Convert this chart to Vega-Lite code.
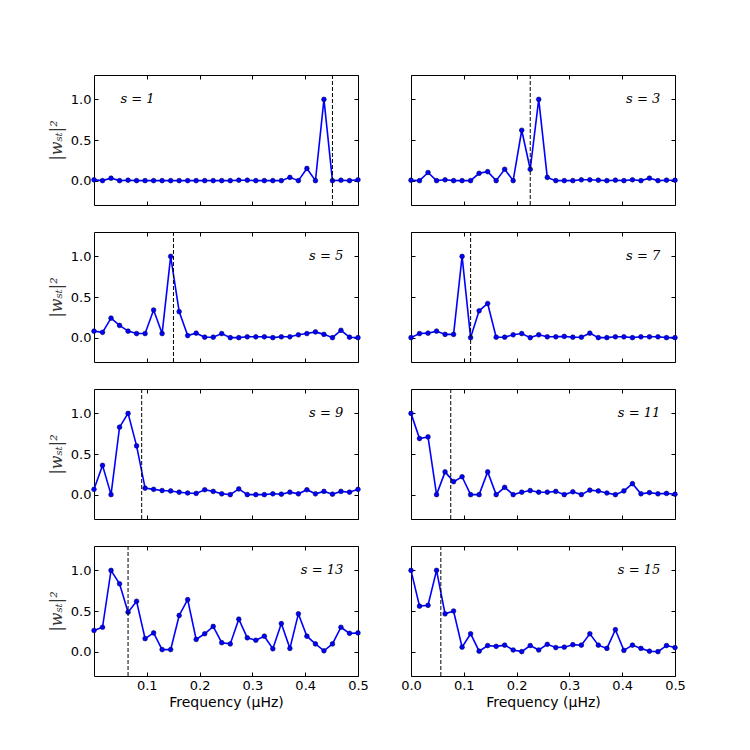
{
  "$schema": "https://vega.github.io/schema/vega-lite/v6.json",
  "padding": {"left": 47, "top": 74, "right": 5, "bottom": 5},
  "bounds": "flush",
  "columns": 2,
  "spacing": {"row": 27, "column": 53},
  "background": "white",
  "datasets": {
    "pts": [
      {"s":1,"f":0,"v":0.01},{"s":1,"f":0.01613,"v":0},{"s":1,"f":0.03226,"v":0.03},{"s":1,"f":0.04839,"v":0},{"s":1,"f":0.06452,"v":0.005},{"s":1,"f":0.08065,"v":0},{"s":1,"f":0.09677,"v":0},{"s":1,"f":0.1129,"v":0},{"s":1,"f":0.129,"v":0},{"s":1,"f":0.1452,"v":0},{"s":1,"f":0.1613,"v":0},{"s":1,"f":0.1774,"v":0},{"s":1,"f":0.1935,"v":0},{"s":1,"f":0.2097,"v":0},{"s":1,"f":0.2258,"v":0},{"s":1,"f":0.2419,"v":0},{"s":1,"f":0.2581,"v":0},{"s":1,"f":0.2742,"v":0.005},{"s":1,"f":0.2903,"v":0.005},{"s":1,"f":0.3065,"v":0},{"s":1,"f":0.3226,"v":0},{"s":1,"f":0.3387,"v":0},{"s":1,"f":0.3548,"v":0},{"s":1,"f":0.371,"v":0.04},{"s":1,"f":0.3871,"v":0},{"s":1,"f":0.4032,"v":0.15},{"s":1,"f":0.4194,"v":0},{"s":1,"f":0.4355,"v":1.0},{"s":1,"f":0.4516,"v":0},{"s":1,"f":0.4677,"v":0.005},{"s":1,"f":0.4839,"v":0},{"s":1,"f":0.5,"v":0.01},
      {"s":3,"f":0,"v":0.005},{"s":3,"f":0.01613,"v":0},{"s":3,"f":0.03226,"v":0.1},{"s":3,"f":0.04839,"v":0},{"s":3,"f":0.06452,"v":0.01},{"s":3,"f":0.08065,"v":0},{"s":3,"f":0.09677,"v":0},{"s":3,"f":0.1129,"v":0},{"s":3,"f":0.129,"v":0.09},{"s":3,"f":0.1452,"v":0.11},{"s":3,"f":0.1613,"v":0},{"s":3,"f":0.1774,"v":0.14},{"s":3,"f":0.1935,"v":0},{"s":3,"f":0.2097,"v":0.62},{"s":3,"f":0.2258,"v":0.14},{"s":3,"f":0.2419,"v":1.0},{"s":3,"f":0.2581,"v":0.04},{"s":3,"f":0.2742,"v":0},{"s":3,"f":0.2903,"v":0},{"s":3,"f":0.3065,"v":0},{"s":3,"f":0.3226,"v":0.01},{"s":3,"f":0.3387,"v":0.01},{"s":3,"f":0.3548,"v":0.005},{"s":3,"f":0.371,"v":0},{"s":3,"f":0.3871,"v":0.005},{"s":3,"f":0.4032,"v":0},{"s":3,"f":0.4194,"v":0.01},{"s":3,"f":0.4355,"v":0},{"s":3,"f":0.4516,"v":0.03},{"s":3,"f":0.4677,"v":0},{"s":3,"f":0.4839,"v":0.005},{"s":3,"f":0.5,"v":0.005},
      {"s":5,"f":0,"v":0.08},{"s":5,"f":0.01613,"v":0.065},{"s":5,"f":0.03226,"v":0.24},{"s":5,"f":0.04839,"v":0.15},{"s":5,"f":0.06452,"v":0.08},{"s":5,"f":0.08065,"v":0.05},{"s":5,"f":0.09677,"v":0.05},{"s":5,"f":0.1129,"v":0.34},{"s":5,"f":0.129,"v":0.05},{"s":5,"f":0.1452,"v":1.0},{"s":5,"f":0.1613,"v":0.32},{"s":5,"f":0.1774,"v":0.025},{"s":5,"f":0.1935,"v":0.055},{"s":5,"f":0.2097,"v":0.005},{"s":5,"f":0.2258,"v":0.005},{"s":5,"f":0.2419,"v":0.05},{"s":5,"f":0.2581,"v":0},{"s":5,"f":0.2742,"v":0},{"s":5,"f":0.2903,"v":0.01},{"s":5,"f":0.3065,"v":0.01},{"s":5,"f":0.3226,"v":0.01},{"s":5,"f":0.3387,"v":0},{"s":5,"f":0.3548,"v":0.01},{"s":5,"f":0.371,"v":0.01},{"s":5,"f":0.3871,"v":0.035},{"s":5,"f":0.4032,"v":0.05},{"s":5,"f":0.4194,"v":0.07},{"s":5,"f":0.4355,"v":0.04},{"s":5,"f":0.4516,"v":0},{"s":5,"f":0.4677,"v":0.09},{"s":5,"f":0.4839,"v":0.005},{"s":5,"f":0.5,"v":0},
      {"s":7,"f":0,"v":0},{"s":7,"f":0.01613,"v":0.05},{"s":7,"f":0.03226,"v":0.055},{"s":7,"f":0.04839,"v":0.08},{"s":7,"f":0.06452,"v":0.04},{"s":7,"f":0.08065,"v":0.04},{"s":7,"f":0.09677,"v":1.0},{"s":7,"f":0.1129,"v":0},{"s":7,"f":0.129,"v":0.33},{"s":7,"f":0.1452,"v":0.42},{"s":7,"f":0.1613,"v":0.005},{"s":7,"f":0.1774,"v":0.005},{"s":7,"f":0.1935,"v":0.035},{"s":7,"f":0.2097,"v":0.05},{"s":7,"f":0.2258,"v":0},{"s":7,"f":0.2419,"v":0.035},{"s":7,"f":0.2581,"v":0.01},{"s":7,"f":0.2742,"v":0.01},{"s":7,"f":0.2903,"v":0.015},{"s":7,"f":0.3065,"v":0.005},{"s":7,"f":0.3226,"v":0.005},{"s":7,"f":0.3387,"v":0.055},{"s":7,"f":0.3548,"v":0},{"s":7,"f":0.371,"v":0},{"s":7,"f":0.3871,"v":0.01},{"s":7,"f":0.4032,"v":0.01},{"s":7,"f":0.4194,"v":0},{"s":7,"f":0.4355,"v":0.01},{"s":7,"f":0.4516,"v":0.01},{"s":7,"f":0.4677,"v":0.01},{"s":7,"f":0.4839,"v":0},{"s":7,"f":0.5,"v":0},
      {"s":9,"f":0,"v":0.065},{"s":9,"f":0.01613,"v":0.36},{"s":9,"f":0.03226,"v":0},{"s":9,"f":0.04839,"v":0.83},{"s":9,"f":0.06452,"v":1.0},{"s":9,"f":0.08065,"v":0.6},{"s":9,"f":0.09677,"v":0.08},{"s":9,"f":0.1129,"v":0.065},{"s":9,"f":0.129,"v":0.05},{"s":9,"f":0.1452,"v":0.045},{"s":9,"f":0.1613,"v":0.03},{"s":9,"f":0.1774,"v":0.02},{"s":9,"f":0.1935,"v":0.015},{"s":9,"f":0.2097,"v":0.06},{"s":9,"f":0.2258,"v":0.04},{"s":9,"f":0.2419,"v":0.01},{"s":9,"f":0.2581,"v":0},{"s":9,"f":0.2742,"v":0.07},{"s":9,"f":0.2903,"v":0},{"s":9,"f":0.3065,"v":0},{"s":9,"f":0.3226,"v":0},{"s":9,"f":0.3387,"v":0.01},{"s":9,"f":0.3548,"v":0.005},{"s":9,"f":0.371,"v":0.03},{"s":9,"f":0.3871,"v":0.01},{"s":9,"f":0.4032,"v":0.06},{"s":9,"f":0.4194,"v":0.01},{"s":9,"f":0.4355,"v":0.04},{"s":9,"f":0.4516,"v":0.005},{"s":9,"f":0.4677,"v":0.04},{"s":9,"f":0.4839,"v":0.03},{"s":9,"f":0.5,"v":0.065},
      {"s":11,"f":0,"v":1.0},{"s":11,"f":0.01613,"v":0.69},{"s":11,"f":0.03226,"v":0.71},{"s":11,"f":0.04839,"v":0},{"s":11,"f":0.06452,"v":0.28},{"s":11,"f":0.08065,"v":0.16},{"s":11,"f":0.09677,"v":0.22},{"s":11,"f":0.1129,"v":0},{"s":11,"f":0.129,"v":0},{"s":11,"f":0.1452,"v":0.28},{"s":11,"f":0.1613,"v":0},{"s":11,"f":0.1774,"v":0.09},{"s":11,"f":0.1935,"v":0},{"s":11,"f":0.2097,"v":0.03},{"s":11,"f":0.2258,"v":0.05},{"s":11,"f":0.2419,"v":0.03},{"s":11,"f":0.2581,"v":0.03},{"s":11,"f":0.2742,"v":0.04},{"s":11,"f":0.2903,"v":0},{"s":11,"f":0.3065,"v":0.035},{"s":11,"f":0.3226,"v":0},{"s":11,"f":0.3387,"v":0.055},{"s":11,"f":0.3548,"v":0.045},{"s":11,"f":0.371,"v":0.02},{"s":11,"f":0.3871,"v":0},{"s":11,"f":0.4032,"v":0.045},{"s":11,"f":0.4194,"v":0.135},{"s":11,"f":0.4355,"v":0.01},{"s":11,"f":0.4516,"v":0.025},{"s":11,"f":0.4677,"v":0.01},{"s":11,"f":0.4839,"v":0.015},{"s":11,"f":0.5,"v":0.005},
      {"s":13,"f":0,"v":0.26},{"s":13,"f":0.01613,"v":0.3},{"s":13,"f":0.03226,"v":1.0},{"s":13,"f":0.04839,"v":0.835},{"s":13,"f":0.06452,"v":0.485},{"s":13,"f":0.08065,"v":0.62},{"s":13,"f":0.09677,"v":0.16},{"s":13,"f":0.1129,"v":0.23},{"s":13,"f":0.129,"v":0.025},{"s":13,"f":0.1452,"v":0.025},{"s":13,"f":0.1613,"v":0.445},{"s":13,"f":0.1774,"v":0.64},{"s":13,"f":0.1935,"v":0.15},{"s":13,"f":0.2097,"v":0.22},{"s":13,"f":0.2258,"v":0.31},{"s":13,"f":0.2419,"v":0.11},{"s":13,"f":0.2581,"v":0.095},{"s":13,"f":0.2742,"v":0.4},{"s":13,"f":0.2903,"v":0.17},{"s":13,"f":0.3065,"v":0.14},{"s":13,"f":0.3226,"v":0.19},{"s":13,"f":0.3387,"v":0.035},{"s":13,"f":0.3548,"v":0.345},{"s":13,"f":0.371,"v":0.04},{"s":13,"f":0.3871,"v":0.465},{"s":13,"f":0.4032,"v":0.19},{"s":13,"f":0.4194,"v":0.095},{"s":13,"f":0.4355,"v":0.01},{"s":13,"f":0.4516,"v":0.095},{"s":13,"f":0.4677,"v":0.3},{"s":13,"f":0.4839,"v":0.225},{"s":13,"f":0.5,"v":0.23},
      {"s":15,"f":0,"v":1.0},{"s":15,"f":0.01613,"v":0.56},{"s":15,"f":0.03226,"v":0.57},{"s":15,"f":0.04839,"v":1.0},{"s":15,"f":0.06452,"v":0.465},{"s":15,"f":0.08065,"v":0.5},{"s":15,"f":0.09677,"v":0.055},{"s":15,"f":0.1129,"v":0.22},{"s":15,"f":0.129,"v":0.005},{"s":15,"f":0.1452,"v":0.075},{"s":15,"f":0.1613,"v":0.065},{"s":15,"f":0.1774,"v":0.08},{"s":15,"f":0.1935,"v":0.02},{"s":15,"f":0.2097,"v":0},{"s":15,"f":0.2258,"v":0.075},{"s":15,"f":0.2419,"v":0.02},{"s":15,"f":0.2581,"v":0.09},{"s":15,"f":0.2742,"v":0.05},{"s":15,"f":0.2903,"v":0.055},{"s":15,"f":0.3065,"v":0.085},{"s":15,"f":0.3226,"v":0.08},{"s":15,"f":0.3387,"v":0.22},{"s":15,"f":0.3548,"v":0.08},{"s":15,"f":0.371,"v":0.04},{"s":15,"f":0.3871,"v":0.27},{"s":15,"f":0.4032,"v":0.015},{"s":15,"f":0.4194,"v":0.08},{"s":15,"f":0.4355,"v":0.04},{"s":15,"f":0.4516,"v":0.005},{"s":15,"f":0.4677,"v":0},{"s":15,"f":0.4839,"v":0.075},{"s":15,"f":0.5,"v":0.05}
    ],
    "cut": [
      {"s":1,"f":0.4516},{"s":3,"f":0.2258},{"s":5,"f":0.1505},{"s":7,"f":0.1129},
      {"s":9,"f":0.0903},{"s":11,"f":0.0753},{"s":13,"f":0.0645},{"s":15,"f":0.0565}
    ],
    "lab": [
      {"s":1,"x":0.05,"y":1.0,"label":"s = 1"},
      {"s":3,"x":0.472,"y":1.0,"label":"s = 3"},
      {"s":5,"x":0.472,"y":1.0,"label":"s = 5"},
      {"s":7,"x":0.472,"y":1.0,"label":"s = 7"},
      {"s":9,"x":0.472,"y":1.0,"label":"s = 9"},
      {"s":11,"x":0.472,"y":1.0,"label":"s = 11"},
      {"s":13,"x":0.472,"y":1.0,"label":"s = 13"},
      {"s":15,"x":0.472,"y":1.0,"label":"s = 15"}
    ]
  },
  "concat": [
    {
      "width": 264, "height": 130,
      "resolve": {"axis": {"x": "independent", "y": "independent"}},
      "layer": [
        {"data": {"name": "pts"}, "transform": [{"filter": "datum.s == 1"}],
         "mark": {"type": "line", "color": "#0000ff", "strokeWidth": 1.6, "point": {"filled": true, "fill": "#0000ff", "stroke": "#000055", "strokeWidth": 0.6, "size": 22, "opacity": 1}},
         "encoding": {
           "x": {"field": "f", "type": "quantitative", "scale": {"domain": [0, 0.5], "nice": false, "zero": false}, "axis": {"values": [0.1,0.2,0.3,0.4,0.5], "labels": false, "title": null}},
           "y": {"field": "v", "type": "quantitative", "scale": {"domain": [-0.3, 1.3], "nice": false, "zero": false}, "axis": {"values": [0,0.5,1], "format": ".1f", "title": "|wₛₜ|²"}}
         }},
        {"data": {"name": "cut"}, "transform": [{"filter": "datum.s == 1"}],
         "mark": {"type": "rule", "color": "black", "strokeWidth": 1, "strokeDash": [4, 2]},
         "encoding": {"x": {"field": "f", "type": "quantitative", "scale": {"domain": [0, 0.5], "nice": false, "zero": false}, "axis": null}}},
        {"data": {"name": "lab"}, "transform": [{"filter": "datum.s == 1"}],
         "mark": {"type": "text", "font": "DejaVu Serif", "fontStyle": "italic", "fontSize": 13, "align": "left", "baseline": "middle", "color": "black"},
         "encoding": {
           "x": {"field": "x", "type": "quantitative", "scale": {"domain": [0, 0.5], "nice": false, "zero": false}, "axis": {"orient": "top", "values": [0.1,0.2,0.3,0.4,0.5], "labels": false, "title": null}},
           "y": {"field": "y", "type": "quantitative", "scale": {"domain": [-0.3, 1.3], "nice": false, "zero": false}, "axis": {"orient": "right", "values": [0,0.5,1], "labels": false, "title": null}},
           "text": {"field": "label"}
         }}
      ]
    },
    {
      "width": 264, "height": 130,
      "resolve": {"axis": {"x": "independent", "y": "independent"}},
      "layer": [
        {"data": {"name": "pts"}, "transform": [{"filter": "datum.s == 3"}],
         "mark": {"type": "line", "color": "#0000ff", "strokeWidth": 1.6, "point": {"filled": true, "fill": "#0000ff", "stroke": "#000055", "strokeWidth": 0.6, "size": 22, "opacity": 1}},
         "encoding": {
           "x": {"field": "f", "type": "quantitative", "scale": {"domain": [0, 0.5], "nice": false, "zero": false}, "axis": {"values": [0,0.1,0.2,0.3,0.4,0.5], "labels": false, "title": null}},
           "y": {"field": "v", "type": "quantitative", "scale": {"domain": [-0.3, 1.3], "nice": false, "zero": false}, "axis": {"values": [0,0.5,1], "labels": false, "title": null}}
         }},
        {"data": {"name": "cut"}, "transform": [{"filter": "datum.s == 3"}],
         "mark": {"type": "rule", "color": "black", "strokeWidth": 1, "strokeDash": [4, 2]},
         "encoding": {"x": {"field": "f", "type": "quantitative", "scale": {"domain": [0, 0.5], "nice": false, "zero": false}, "axis": null}}},
        {"data": {"name": "lab"}, "transform": [{"filter": "datum.s == 3"}],
         "mark": {"type": "text", "font": "DejaVu Serif", "fontStyle": "italic", "fontSize": 13, "align": "right", "baseline": "middle", "color": "black"},
         "encoding": {
           "x": {"field": "x", "type": "quantitative", "scale": {"domain": [0, 0.5], "nice": false, "zero": false}, "axis": {"orient": "top", "values": [0,0.1,0.2,0.3,0.4,0.5], "labels": false, "title": null}},
           "y": {"field": "y", "type": "quantitative", "scale": {"domain": [-0.3, 1.3], "nice": false, "zero": false}, "axis": {"orient": "right", "values": [0,0.5,1], "labels": false, "title": null}},
           "text": {"field": "label"}
         }}
      ]
    },
    {
      "width": 264, "height": 130,
      "resolve": {"axis": {"x": "independent", "y": "independent"}},
      "layer": [
        {"data": {"name": "pts"}, "transform": [{"filter": "datum.s == 5"}],
         "mark": {"type": "line", "color": "#0000ff", "strokeWidth": 1.6, "point": {"filled": true, "fill": "#0000ff", "stroke": "#000055", "strokeWidth": 0.6, "size": 22, "opacity": 1}},
         "encoding": {
           "x": {"field": "f", "type": "quantitative", "scale": {"domain": [0, 0.5], "nice": false, "zero": false}, "axis": {"values": [0.1,0.2,0.3,0.4,0.5], "labels": false, "title": null}},
           "y": {"field": "v", "type": "quantitative", "scale": {"domain": [-0.3, 1.3], "nice": false, "zero": false}, "axis": {"values": [0,0.5,1], "format": ".1f", "title": "|wₛₜ|²"}}
         }},
        {"data": {"name": "cut"}, "transform": [{"filter": "datum.s == 5"}],
         "mark": {"type": "rule", "color": "black", "strokeWidth": 1, "strokeDash": [4, 2]},
         "encoding": {"x": {"field": "f", "type": "quantitative", "scale": {"domain": [0, 0.5], "nice": false, "zero": false}, "axis": null}}},
        {"data": {"name": "lab"}, "transform": [{"filter": "datum.s == 5"}],
         "mark": {"type": "text", "font": "DejaVu Serif", "fontStyle": "italic", "fontSize": 13, "align": "right", "baseline": "middle", "color": "black"},
         "encoding": {
           "x": {"field": "x", "type": "quantitative", "scale": {"domain": [0, 0.5], "nice": false, "zero": false}, "axis": {"orient": "top", "values": [0.1,0.2,0.3,0.4,0.5], "labels": false, "title": null}},
           "y": {"field": "y", "type": "quantitative", "scale": {"domain": [-0.3, 1.3], "nice": false, "zero": false}, "axis": {"orient": "right", "values": [0,0.5,1], "labels": false, "title": null}},
           "text": {"field": "label"}
         }}
      ]
    },
    {
      "width": 264, "height": 130,
      "resolve": {"axis": {"x": "independent", "y": "independent"}},
      "layer": [
        {"data": {"name": "pts"}, "transform": [{"filter": "datum.s == 7"}],
         "mark": {"type": "line", "color": "#0000ff", "strokeWidth": 1.6, "point": {"filled": true, "fill": "#0000ff", "stroke": "#000055", "strokeWidth": 0.6, "size": 22, "opacity": 1}},
         "encoding": {
           "x": {"field": "f", "type": "quantitative", "scale": {"domain": [0, 0.5], "nice": false, "zero": false}, "axis": {"values": [0,0.1,0.2,0.3,0.4,0.5], "labels": false, "title": null}},
           "y": {"field": "v", "type": "quantitative", "scale": {"domain": [-0.3, 1.3], "nice": false, "zero": false}, "axis": {"values": [0,0.5,1], "labels": false, "title": null}}
         }},
        {"data": {"name": "cut"}, "transform": [{"filter": "datum.s == 7"}],
         "mark": {"type": "rule", "color": "black", "strokeWidth": 1, "strokeDash": [4, 2]},
         "encoding": {"x": {"field": "f", "type": "quantitative", "scale": {"domain": [0, 0.5], "nice": false, "zero": false}, "axis": null}}},
        {"data": {"name": "lab"}, "transform": [{"filter": "datum.s == 7"}],
         "mark": {"type": "text", "font": "DejaVu Serif", "fontStyle": "italic", "fontSize": 13, "align": "right", "baseline": "middle", "color": "black"},
         "encoding": {
           "x": {"field": "x", "type": "quantitative", "scale": {"domain": [0, 0.5], "nice": false, "zero": false}, "axis": {"orient": "top", "values": [0,0.1,0.2,0.3,0.4,0.5], "labels": false, "title": null}},
           "y": {"field": "y", "type": "quantitative", "scale": {"domain": [-0.3, 1.3], "nice": false, "zero": false}, "axis": {"orient": "right", "values": [0,0.5,1], "labels": false, "title": null}},
           "text": {"field": "label"}
         }}
      ]
    },
    {
      "width": 264, "height": 130,
      "resolve": {"axis": {"x": "independent", "y": "independent"}},
      "layer": [
        {"data": {"name": "pts"}, "transform": [{"filter": "datum.s == 9"}],
         "mark": {"type": "line", "color": "#0000ff", "strokeWidth": 1.6, "point": {"filled": true, "fill": "#0000ff", "stroke": "#000055", "strokeWidth": 0.6, "size": 22, "opacity": 1}},
         "encoding": {
           "x": {"field": "f", "type": "quantitative", "scale": {"domain": [0, 0.5], "nice": false, "zero": false}, "axis": {"values": [0.1,0.2,0.3,0.4,0.5], "labels": false, "title": null}},
           "y": {"field": "v", "type": "quantitative", "scale": {"domain": [-0.3, 1.3], "nice": false, "zero": false}, "axis": {"values": [0,0.5,1], "format": ".1f", "title": "|wₛₜ|²"}}
         }},
        {"data": {"name": "cut"}, "transform": [{"filter": "datum.s == 9"}],
         "mark": {"type": "rule", "color": "black", "strokeWidth": 1, "strokeDash": [4, 2]},
         "encoding": {"x": {"field": "f", "type": "quantitative", "scale": {"domain": [0, 0.5], "nice": false, "zero": false}, "axis": null}}},
        {"data": {"name": "lab"}, "transform": [{"filter": "datum.s == 9"}],
         "mark": {"type": "text", "font": "DejaVu Serif", "fontStyle": "italic", "fontSize": 13, "align": "right", "baseline": "middle", "color": "black"},
         "encoding": {
           "x": {"field": "x", "type": "quantitative", "scale": {"domain": [0, 0.5], "nice": false, "zero": false}, "axis": {"orient": "top", "values": [0.1,0.2,0.3,0.4,0.5], "labels": false, "title": null}},
           "y": {"field": "y", "type": "quantitative", "scale": {"domain": [-0.3, 1.3], "nice": false, "zero": false}, "axis": {"orient": "right", "values": [0,0.5,1], "labels": false, "title": null}},
           "text": {"field": "label"}
         }}
      ]
    },
    {
      "width": 264, "height": 130,
      "resolve": {"axis": {"x": "independent", "y": "independent"}},
      "layer": [
        {"data": {"name": "pts"}, "transform": [{"filter": "datum.s == 11"}],
         "mark": {"type": "line", "color": "#0000ff", "strokeWidth": 1.6, "point": {"filled": true, "fill": "#0000ff", "stroke": "#000055", "strokeWidth": 0.6, "size": 22, "opacity": 1}},
         "encoding": {
           "x": {"field": "f", "type": "quantitative", "scale": {"domain": [0, 0.5], "nice": false, "zero": false}, "axis": {"values": [0,0.1,0.2,0.3,0.4,0.5], "labels": false, "title": null}},
           "y": {"field": "v", "type": "quantitative", "scale": {"domain": [-0.3, 1.3], "nice": false, "zero": false}, "axis": {"values": [0,0.5,1], "labels": false, "title": null}}
         }},
        {"data": {"name": "cut"}, "transform": [{"filter": "datum.s == 11"}],
         "mark": {"type": "rule", "color": "black", "strokeWidth": 1, "strokeDash": [4, 2]},
         "encoding": {"x": {"field": "f", "type": "quantitative", "scale": {"domain": [0, 0.5], "nice": false, "zero": false}, "axis": null}}},
        {"data": {"name": "lab"}, "transform": [{"filter": "datum.s == 11"}],
         "mark": {"type": "text", "font": "DejaVu Serif", "fontStyle": "italic", "fontSize": 13, "align": "right", "baseline": "middle", "color": "black"},
         "encoding": {
           "x": {"field": "x", "type": "quantitative", "scale": {"domain": [0, 0.5], "nice": false, "zero": false}, "axis": {"orient": "top", "values": [0,0.1,0.2,0.3,0.4,0.5], "labels": false, "title": null}},
           "y": {"field": "y", "type": "quantitative", "scale": {"domain": [-0.3, 1.3], "nice": false, "zero": false}, "axis": {"orient": "right", "values": [0,0.5,1], "labels": false, "title": null}},
           "text": {"field": "label"}
         }}
      ]
    },
    {
      "width": 264, "height": 130,
      "resolve": {"axis": {"x": "independent", "y": "independent"}},
      "layer": [
        {"data": {"name": "pts"}, "transform": [{"filter": "datum.s == 13"}],
         "mark": {"type": "line", "color": "#0000ff", "strokeWidth": 1.6, "point": {"filled": true, "fill": "#0000ff", "stroke": "#000055", "strokeWidth": 0.6, "size": 22, "opacity": 1}},
         "encoding": {
           "x": {"field": "f", "type": "quantitative", "scale": {"domain": [0, 0.5], "nice": false, "zero": false}, "axis": {"values": [0.1,0.2,0.3,0.4,0.5], "format": ".1f", "title": "Frequency (μHz)"}},
           "y": {"field": "v", "type": "quantitative", "scale": {"domain": [-0.3, 1.3], "nice": false, "zero": false}, "axis": {"values": [0,0.5,1], "format": ".1f", "title": "|wₛₜ|²"}}
         }},
        {"data": {"name": "cut"}, "transform": [{"filter": "datum.s == 13"}],
         "mark": {"type": "rule", "color": "black", "strokeWidth": 1, "strokeDash": [4, 2]},
         "encoding": {"x": {"field": "f", "type": "quantitative", "scale": {"domain": [0, 0.5], "nice": false, "zero": false}, "axis": null}}},
        {"data": {"name": "lab"}, "transform": [{"filter": "datum.s == 13"}],
         "mark": {"type": "text", "font": "DejaVu Serif", "fontStyle": "italic", "fontSize": 13, "align": "right", "baseline": "middle", "color": "black"},
         "encoding": {
           "x": {"field": "x", "type": "quantitative", "scale": {"domain": [0, 0.5], "nice": false, "zero": false}, "axis": {"orient": "top", "values": [0.1,0.2,0.3,0.4,0.5], "labels": false, "title": null}},
           "y": {"field": "y", "type": "quantitative", "scale": {"domain": [-0.3, 1.3], "nice": false, "zero": false}, "axis": {"orient": "right", "values": [0,0.5,1], "labels": false, "title": null}},
           "text": {"field": "label"}
         }}
      ]
    },
    {
      "width": 264, "height": 130,
      "resolve": {"axis": {"x": "independent", "y": "independent"}},
      "layer": [
        {"data": {"name": "pts"}, "transform": [{"filter": "datum.s == 15"}],
         "mark": {"type": "line", "color": "#0000ff", "strokeWidth": 1.6, "point": {"filled": true, "fill": "#0000ff", "stroke": "#000055", "strokeWidth": 0.6, "size": 22, "opacity": 1}},
         "encoding": {
           "x": {"field": "f", "type": "quantitative", "scale": {"domain": [0, 0.5], "nice": false, "zero": false}, "axis": {"values": [0,0.1,0.2,0.3,0.4,0.5], "format": ".1f", "title": "Frequency (μHz)"}},
           "y": {"field": "v", "type": "quantitative", "scale": {"domain": [-0.3, 1.3], "nice": false, "zero": false}, "axis": {"values": [0,0.5,1], "labels": false, "title": null}}
         }},
        {"data": {"name": "cut"}, "transform": [{"filter": "datum.s == 15"}],
         "mark": {"type": "rule", "color": "black", "strokeWidth": 1, "strokeDash": [4, 2]},
         "encoding": {"x": {"field": "f", "type": "quantitative", "scale": {"domain": [0, 0.5], "nice": false, "zero": false}, "axis": null}}},
        {"data": {"name": "lab"}, "transform": [{"filter": "datum.s == 15"}],
         "mark": {"type": "text", "font": "DejaVu Serif", "fontStyle": "italic", "fontSize": 13, "align": "right", "baseline": "middle", "color": "black"},
         "encoding": {
           "x": {"field": "x", "type": "quantitative", "scale": {"domain": [0, 0.5], "nice": false, "zero": false}, "axis": {"orient": "top", "values": [0,0.1,0.2,0.3,0.4,0.5], "labels": false, "title": null}},
           "y": {"field": "y", "type": "quantitative", "scale": {"domain": [-0.3, 1.3], "nice": false, "zero": false}, "axis": {"orient": "right", "values": [0,0.5,1], "labels": false, "title": null}},
           "text": {"field": "label"}
         }}
      ]
    }
  ],
  "config": {
    "view": {"stroke": "black", "strokeWidth": 1},
    "axis": {"grid": false, "domain": false, "ticks": true, "tickColor": "black", "tickSize": -4, "tickWidth": 1,
             "labelFont": "DejaVu Sans", "labelFontSize": 13, "labelColor": "black", "labelPadding": 7,
             "labelFlush": false, "labelOverlap": false,
             "titleFont": "DejaVu Sans", "titleFontSize": 14, "titleFontWeight": "normal", "titleColor": "black"},
    "axisX": {"titlePadding": 3},
    "axisY": {"titleFont": "DejaVu Serif", "titleFontStyle": "italic", "titleFontSize": 16, "titleColor": "#333333", "titlePadding": 6}
  }
}
